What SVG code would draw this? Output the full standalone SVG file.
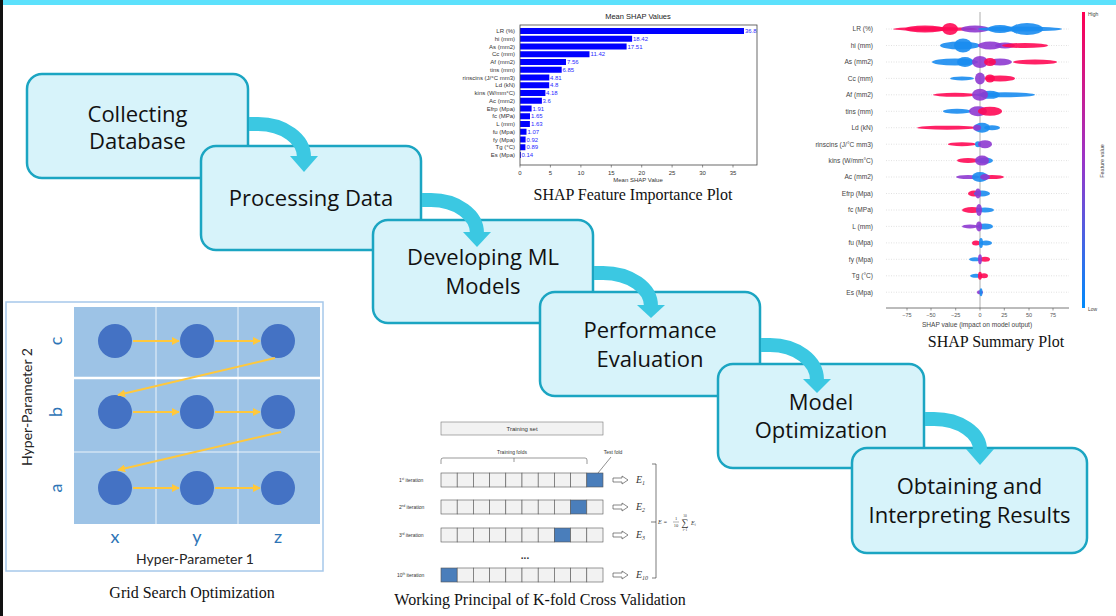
<svg xmlns="http://www.w3.org/2000/svg" width="1116" height="616" viewBox="0 0 1116 616">
<style>
.box{fill:#d7f3fa;stroke:#1ba5c2;stroke-width:2.5}
.bt{font-family:"Open Sans","Noto Sans",sans-serif;font-size:22px;fill:#111;text-anchor:middle}
.cap{font-family:"Liberation Serif",serif;font-size:16px;fill:#111;text-anchor:middle}
.arr{fill:none;stroke:#3bc8e2;stroke-width:14}
.ah{fill:#3bc8e2}
.fl{font-family:"Liberation Sans",sans-serif;font-size:6px;fill:#333;text-anchor:end}
.vl{font-family:"Liberation Sans",sans-serif;font-size:6px;fill:#2a2aff}
.tk{font-family:"Liberation Sans",sans-serif;font-size:6px;fill:#333;text-anchor:middle}
.bar{fill:#0000ff}
.sl{font-family:"Liberation Sans",sans-serif;font-size:6.6px;fill:#444;text-anchor:end}
.grid{stroke:#ccc;stroke-width:0.6;stroke-dasharray:1 1.5}
.R{fill:#ff0a55;opacity:.9}
.B{fill:#1a8cf0;opacity:.9}
.P{fill:#8e3ad0;opacity:.9}
.cir{fill:#4472c4}
.ya{stroke:#ffc83d;stroke-width:2;fill:none}
.gl{font-family:Lato,"Open Sans",sans-serif;font-size:18px;fill:#2e75b6;text-anchor:middle}
.hp{font-family:Lato,"Open Sans",sans-serif;font-size:14px;fill:#262626;text-anchor:middle}
.cell{fill:#f2f2f2;stroke:#555;stroke-width:0.6}
.tf{fill:#4a7ebb;stroke:#555;stroke-width:0.6}
.it{font-family:"Liberation Sans",sans-serif;font-size:5px;fill:#333}
.ex{font-family:"Liberation Serif",serif;font-style:italic;font-size:10px;fill:#333}
.dar{fill:#fff;stroke:#555;stroke-width:0.7}
</style>
<defs>
<marker id="yh" viewBox="0 0 10 10" refX="9" refY="5" markerWidth="4" markerHeight="4" orient="auto"><path d="M0,0 L10,5 L0,10 Z" fill="#ffc83d"/></marker>
<linearGradient id="cb" x1="0" y1="0" x2="0" y2="1"><stop offset="0" stop-color="#ff0052"/><stop offset="0.5" stop-color="#9b35c8"/><stop offset="1" stop-color="#008bfb"/></linearGradient>
</defs>
<rect width="1116" height="616" fill="#fff"/>
<rect x="0" y="0" width="1116" height="5" fill="#5ce1fc"/>
<rect x="0" y="0" width="3" height="616" fill="#111"/>

<!-- SHAP feature importance -->
<g id="shap-importance">
<text x="638" y="19" font-family="Liberation Sans,sans-serif" font-size="7.5" fill="#222" text-anchor="middle">Mean SHAP Values</text>
<g>
<rect class="bar" x="520" y="28" width="224" height="6"/>
<rect class="bar" x="520" y="35.75" width="112.1" height="6"/>
<rect class="bar" x="520" y="43.5" width="106.6" height="6"/>
<rect class="bar" x="520" y="51.25" width="69.5" height="6"/>
<rect class="bar" x="520" y="59" width="46" height="6"/>
<rect class="bar" x="520" y="66.75" width="41.7" height="6"/>
<rect class="bar" x="520" y="74.5" width="29.3" height="6"/>
<rect class="bar" x="520" y="82.25" width="29.2" height="6"/>
<rect class="bar" x="520" y="90" width="25.4" height="6"/>
<rect class="bar" x="520" y="97.75" width="21.9" height="6"/>
<rect class="bar" x="520" y="105.5" width="11.6" height="6"/>
<rect class="bar" x="520" y="113.25" width="10" height="6"/>
<rect class="bar" x="520" y="121" width="9.9" height="6"/>
<rect class="bar" x="520" y="128.75" width="6.5" height="6"/>
<rect class="bar" x="520" y="136.5" width="5.6" height="6"/>
<rect class="bar" x="520" y="144.25" width="5.4" height="6"/>
<rect class="bar" x="520" y="152" width="0.9" height="6"/>
</g>
<rect x="520" y="25" width="237" height="140" fill="none" stroke="#444" stroke-width="0.8"/>
<g>
<text class="fl" x="515" y="33">LR (%)</text>
<text class="fl" x="515" y="40.75">hi (mm)</text>
<text class="fl" x="515" y="48.5">As (mm2)</text>
<text class="fl" x="515" y="56.25">Cc (mm)</text>
<text class="fl" x="515" y="64">Af (mm2)</text>
<text class="fl" x="515" y="71.75">tins (mm)</text>
<text class="fl" x="515" y="79.5">rinscins (J/°C mm3)</text>
<text class="fl" x="515" y="87.25">Ld (kN)</text>
<text class="fl" x="515" y="95">kins (W/mm°C)</text>
<text class="fl" x="515" y="102.75">Ac (mm2)</text>
<text class="fl" x="515" y="110.5">Efrp (Mpa)</text>
<text class="fl" x="515" y="118.25">fc (MPa)</text>
<text class="fl" x="515" y="126">L (mm)</text>
<text class="fl" x="515" y="133.75">fu (Mpa)</text>
<text class="fl" x="515" y="141.5">fy (Mpa)</text>
<text class="fl" x="515" y="149.25">Tg (°C)</text>
<text class="fl" x="515" y="157">Es (Mpa)</text>
</g>
<g>
<text class="vl" x="745" y="33">36.8</text>
<text class="vl" x="633" y="40.75">18.42</text>
<text class="vl" x="627.5" y="48.5">17.51</text>
<text class="vl" x="590.5" y="56.25">11.42</text>
<text class="vl" x="567" y="64">7.56</text>
<text class="vl" x="562.5" y="71.75">6.85</text>
<text class="vl" x="550" y="79.5">4.81</text>
<text class="vl" x="550" y="87.25">4.8</text>
<text class="vl" x="546" y="95">4.18</text>
<text class="vl" x="542.5" y="102.75">3.6</text>
<text class="vl" x="532.5" y="110.5">1.91</text>
<text class="vl" x="531" y="118.25">1.65</text>
<text class="vl" x="531" y="126">1.63</text>
<text class="vl" x="527.5" y="133.75">1.07</text>
<text class="vl" x="526.5" y="141.5">0.92</text>
<text class="vl" x="526.5" y="149.25">0.89</text>
<text class="vl" x="521.5" y="157">0.14</text>
</g>
<g stroke="#444" stroke-width="0.6">
<line x1="520" y1="165" x2="520" y2="167.5"/><line x1="550.4" y1="165" x2="550.4" y2="167.5"/><line x1="580.9" y1="165" x2="580.9" y2="167.5"/><line x1="611.3" y1="165" x2="611.3" y2="167.5"/><line x1="641.7" y1="165" x2="641.7" y2="167.5"/><line x1="672.1" y1="165" x2="672.1" y2="167.5"/><line x1="702.6" y1="165" x2="702.6" y2="167.5"/><line x1="733" y1="165" x2="733" y2="167.5"/>
</g>
<g>
<text class="tk" x="520" y="174.5">0</text><text class="tk" x="550.4" y="174.5">5</text><text class="tk" x="580.9" y="174.5">10</text><text class="tk" x="611.3" y="174.5">15</text><text class="tk" x="641.7" y="174.5">20</text><text class="tk" x="672.1" y="174.5">25</text><text class="tk" x="702.6" y="174.5">30</text><text class="tk" x="733" y="174.5">35</text>
</g>
<text class="tk" x="638" y="181.5" font-size="5.5">Mean SHAP Value</text>
<text class="cap" x="633" y="200">SHAP Feature Importance Plot</text>
</g>

<!-- SHAP summary -->
<g id="shap-summary">
<g class="grid">
<line x1="886" y1="29" x2="1069" y2="29"/><line x1="886" y1="45.5" x2="1069" y2="45.5"/><line x1="886" y1="62" x2="1069" y2="62"/><line x1="886" y1="78.4" x2="1069" y2="78.4"/><line x1="886" y1="94.8" x2="1069" y2="94.8"/><line x1="886" y1="111.3" x2="1069" y2="111.3"/><line x1="886" y1="127.7" x2="1069" y2="127.7"/><line x1="886" y1="144.2" x2="1069" y2="144.2"/><line x1="886" y1="160.6" x2="1069" y2="160.6"/><line x1="886" y1="177" x2="1069" y2="177"/><line x1="886" y1="193.5" x2="1069" y2="193.5"/><line x1="886" y1="210" x2="1069" y2="210"/><line x1="886" y1="226.4" x2="1069" y2="226.4"/><line x1="886" y1="242.9" x2="1069" y2="242.9"/><line x1="886" y1="259.3" x2="1069" y2="259.3"/><line x1="886" y1="275.8" x2="1069" y2="275.8"/><line x1="886" y1="292.2" x2="1069" y2="292.2"/>
</g>
<line x1="980" y1="12" x2="980" y2="308" stroke="#999" stroke-width="0.8"/>
<g>
<ellipse class="R" cx="935" cy="29" rx="42" ry="2"/><ellipse class="R" cx="925" cy="29" rx="20" ry="3.5"/><ellipse class="R" cx="950" cy="29" rx="8" ry="6"/><ellipse class="P" cx="975" cy="29" rx="14" ry="3.5"/><ellipse class="B" cx="1020" cy="29" rx="42" ry="2.5"/><ellipse class="B" cx="1000" cy="29" rx="12" ry="4"/><ellipse class="B" cx="1027" cy="29" rx="16" ry="6"/>
<ellipse class="B" cx="960" cy="45.5" rx="20" ry="4"/><ellipse class="B" cx="963" cy="45.5" rx="9" ry="7"/><ellipse class="P" cx="990" cy="45.5" rx="12" ry="4"/><ellipse class="P" cx="1005" cy="45.5" rx="10" ry="3"/><ellipse class="R" cx="1025" cy="45.5" rx="23" ry="2.5"/>
<ellipse class="B" cx="955" cy="62" rx="23" ry="3.5"/><ellipse class="B" cx="965" cy="62" rx="8" ry="5"/><ellipse class="P" cx="980" cy="62" rx="8" ry="6"/><ellipse class="P" cx="1000" cy="62" rx="12" ry="3.5"/><ellipse class="R" cx="990" cy="62" rx="6" ry="4"/><ellipse class="R" cx="1035" cy="62" rx="22" ry="2.5"/>
<ellipse class="B" cx="962" cy="78.4" rx="12" ry="2"/><ellipse class="P" cx="980" cy="78.4" rx="5" ry="6"/><ellipse class="R" cx="1000" cy="78.4" rx="15" ry="3"/><ellipse class="R" cx="990" cy="78.4" rx="5" ry="4"/>
<ellipse class="R" cx="955" cy="94.8" rx="22" ry="2"/><ellipse class="B" cx="1005" cy="94.8" rx="30" ry="2.5"/><ellipse class="B" cx="990" cy="94.8" rx="10" ry="4"/><ellipse class="P" cx="980" cy="94.8" rx="8" ry="6"/>
<ellipse class="B" cx="957" cy="111.3" rx="14" ry="2.5"/><ellipse class="P" cx="978" cy="111.3" rx="9" ry="5"/><ellipse class="R" cx="990" cy="111.3" rx="12" ry="4.5"/>
<ellipse class="R" cx="947" cy="127.7" rx="30" ry="2"/><ellipse class="B" cx="992" cy="127.7" rx="8" ry="2.5"/><ellipse class="B" cx="982" cy="127.7" rx="8" ry="5"/><ellipse class="P" cx="977" cy="127.7" rx="4" ry="3"/>
<ellipse class="R" cx="962" cy="144.2" rx="14" ry="2"/><ellipse class="B" cx="978" cy="144.2" rx="3" ry="3"/><ellipse class="P" cx="985" cy="144.2" rx="7" ry="4"/>
<ellipse class="R" cx="968" cy="160.6" rx="11" ry="2.5"/><ellipse class="B" cx="985" cy="160.6" rx="8" ry="3"/><ellipse class="P" cx="982" cy="160.6" rx="7" ry="5"/>
<ellipse class="P" cx="968" cy="177" rx="12" ry="2"/><ellipse class="R" cx="992" cy="177" rx="12" ry="2"/><ellipse class="B" cx="980" cy="177" rx="8" ry="5"/><ellipse class="P" cx="985" cy="177" rx="5" ry="3"/>
<ellipse class="R" cx="974" cy="193.5" rx="6" ry="3"/><ellipse class="B" cx="982" cy="193.5" rx="8" ry="3"/><ellipse class="P" cx="978" cy="193.5" rx="3" ry="5"/>
<ellipse class="R" cx="972" cy="210" rx="10" ry="3"/><ellipse class="B" cx="985" cy="210" rx="9" ry="2.5"/><ellipse class="P" cx="979" cy="210" rx="3" ry="6"/>
<ellipse class="P" cx="970" cy="226.4" rx="8" ry="2"/><ellipse class="B" cx="985" cy="226.4" rx="8" ry="3"/><ellipse class="P" cx="979" cy="226.4" rx="3" ry="5"/>
<ellipse class="R" cx="976" cy="242.9" rx="4" ry="2.5"/><ellipse class="B" cx="986" cy="242.9" rx="6" ry="2.5"/><ellipse class="B" cx="981" cy="242.9" rx="2" ry="5"/>
<ellipse class="B" cx="975" cy="259.3" rx="6" ry="2"/><ellipse class="R" cx="985" cy="259.3" rx="5" ry="2.5"/><ellipse class="P" cx="980" cy="259.3" rx="2" ry="5"/>
<ellipse class="B" cx="976" cy="275.8" rx="6" ry="2"/><ellipse class="R" cx="984" cy="275.8" rx="4" ry="2.5"/><ellipse class="R" cx="980" cy="275.8" rx="2" ry="4"/>
<ellipse class="P" cx="980" cy="292.2" rx="3" ry="2"/><ellipse class="B" cx="981" cy="292.2" rx="1.5" ry="4"/>
</g>
<g>
<text class="sl" x="873" y="31.3">LR (%)</text><text class="sl" x="873" y="47.8">hi (mm)</text><text class="sl" x="873" y="64.3">As (mm2)</text><text class="sl" x="873" y="80.7">Cc (mm)</text><text class="sl" x="873" y="97.1">Af (mm2)</text><text class="sl" x="873" y="113.6">tins (mm)</text><text class="sl" x="873" y="130">Ld (kN)</text><text class="sl" x="873" y="146.5">rinscins (J/°C mm3)</text><text class="sl" x="873" y="162.9">kins (W/mm°C)</text><text class="sl" x="873" y="179.3">Ac (mm2)</text><text class="sl" x="873" y="195.8">Efrp (Mpa)</text><text class="sl" x="873" y="212.3">fc (MPa)</text><text class="sl" x="873" y="228.7">L (mm)</text><text class="sl" x="873" y="245.2">fu (Mpa)</text><text class="sl" x="873" y="261.6">fy (Mpa)</text><text class="sl" x="873" y="278.1">Tg (°C)</text><text class="sl" x="873" y="294.5">Es (Mpa)</text>
</g>
<line x1="886" y1="308" x2="1069" y2="308" stroke="#555" stroke-width="0.8"/>
<g stroke="#555" stroke-width="0.6">
<line x1="907" y1="308" x2="907" y2="310.5"/><line x1="931" y1="308" x2="931" y2="310.5"/><line x1="955.7" y1="308" x2="955.7" y2="310.5"/><line x1="980" y1="308" x2="980" y2="310.5"/><line x1="1004.3" y1="308" x2="1004.3" y2="310.5"/><line x1="1029" y1="308" x2="1029" y2="310.5"/><line x1="1053" y1="308" x2="1053" y2="310.5"/>
</g>
<g class="tk" style="font-size:5.5px;fill:#555">
<text x="907" y="317">−75</text><text x="931" y="317">−50</text><text x="955.7" y="317">−25</text><text x="980" y="317">0</text><text x="1004.3" y="317">25</text><text x="1029" y="317">50</text><text x="1053" y="317">75</text>
</g>
<text class="tk" x="977" y="326.5" style="font-size:6.6px;fill:#444">SHAP value (impact on model output)</text>
<rect x="1082" y="12" width="3" height="296" fill="url(#cb)"/>
<text x="1088" y="16" font-family="Liberation Sans,sans-serif" font-size="5" fill="#444">High</text>
<text x="1088" y="311" font-family="Liberation Sans,sans-serif" font-size="5" fill="#444">Low</text>
<text transform="translate(1104,161) rotate(-90)" font-family="Liberation Sans,sans-serif" font-size="5.5" fill="#444" text-anchor="middle">Feature value</text>
<text class="cap" x="996" y="347">SHAP Summary Plot</text>
</g>

<!-- Grid search -->
<g id="grid-search">
<rect x="6" y="302" width="317" height="269" fill="#fff" stroke="#a6c8ea" stroke-width="1.5"/>
<rect x="74" y="307" width="246" height="217" fill="#9dc3e6"/>
<g stroke="#fff">
<line x1="156" y1="307" x2="156" y2="524" stroke-width="0.8"/><line x1="238" y1="307" x2="238" y2="524" stroke-width="0.8"/>
<line x1="74" y1="378" x2="320" y2="378" stroke-width="2.5"/><line x1="74" y1="452" x2="320" y2="452" stroke-width="0.8"/>
</g>
<g>
<circle class="cir" cx="115" cy="341" r="17"/><circle class="cir" cx="197" cy="341" r="17"/><circle class="cir" cx="278" cy="341" r="17"/>
<circle class="cir" cx="115" cy="412" r="17"/><circle class="cir" cx="197" cy="412" r="17"/><circle class="cir" cx="278" cy="412" r="17"/>
<circle class="cir" cx="115" cy="488" r="17"/><circle class="cir" cx="197" cy="488" r="17"/><circle class="cir" cx="278" cy="488" r="17"/>
</g>
<g class="ya" marker-end="url(#yh)">
<line x1="133" y1="341" x2="179" y2="341"/><line x1="215" y1="341" x2="260" y2="341"/>
<line x1="275" y1="358" x2="118" y2="395"/>
<line x1="133" y1="412" x2="179" y2="412"/><line x1="215" y1="412" x2="260" y2="412"/>
<line x1="281" y1="432" x2="118" y2="470"/>
<line x1="133" y1="488" x2="179" y2="488"/><line x1="215" y1="488" x2="260" y2="488"/>
</g>
<text class="gl" transform="translate(62,341) rotate(-90)">c</text>
<text class="gl" transform="translate(62,412) rotate(-90)">b</text>
<text class="gl" transform="translate(62,488) rotate(-90)">a</text>
<text class="gl" x="115" y="543">x</text><text class="gl" x="197" y="543">y</text><text class="gl" x="278" y="543">z</text>
<text class="hp" transform="translate(32,407) rotate(-90)">Hyper-Parameter 2</text>
<text class="hp" x="195" y="564">Hyper-Parameter 1</text>
<text class="cap" x="192" y="598">Grid Search Optimization</text>
</g>

<!-- K-fold -->
<g id="kfold">
<rect x="441" y="422" width="162" height="13" fill="#f2f2f2" stroke="#777" stroke-width="0.6"/>
<text x="522" y="431" font-family="Liberation Sans,sans-serif" font-size="6" fill="#333" text-anchor="middle">Training set</text>
<text x="512" y="454" font-family="Liberation Sans,sans-serif" font-size="5" fill="#333" text-anchor="middle">Training folds</text>
<text x="613" y="454" font-family="Liberation Sans,sans-serif" font-size="5" fill="#333" text-anchor="middle">Test fold</text>
<path d="M441,464 V460 Q441,458 443,458 H585 Q587,458 587,460 V464 M514,458 V462" fill="none" stroke="#555" stroke-width="0.6"/>
<line x1="611" y1="457" x2="598" y2="473" stroke="#444" stroke-width="0.6"/>
<g>
<rect class="cell" x="441" y="473" width="16.2" height="14"/><rect class="cell" x="457.2" y="473" width="16.2" height="14"/><rect class="cell" x="473.4" y="473" width="16.2" height="14"/><rect class="cell" x="489.6" y="473" width="16.2" height="14"/><rect class="cell" x="505.8" y="473" width="16.2" height="14"/><rect class="cell" x="522" y="473" width="16.2" height="14"/><rect class="cell" x="538.2" y="473" width="16.2" height="14"/><rect class="cell" x="554.4" y="473" width="16.2" height="14"/><rect class="cell" x="570.6" y="473" width="16.2" height="14"/><rect class="tf" x="586.8" y="473" width="16.2" height="14"/>
<rect class="cell" x="441" y="500" width="16.2" height="14"/><rect class="cell" x="457.2" y="500" width="16.2" height="14"/><rect class="cell" x="473.4" y="500" width="16.2" height="14"/><rect class="cell" x="489.6" y="500" width="16.2" height="14"/><rect class="cell" x="505.8" y="500" width="16.2" height="14"/><rect class="cell" x="522" y="500" width="16.2" height="14"/><rect class="cell" x="538.2" y="500" width="16.2" height="14"/><rect class="cell" x="554.4" y="500" width="16.2" height="14"/><rect class="tf" x="570.6" y="500" width="16.2" height="14"/><rect class="cell" x="586.8" y="500" width="16.2" height="14"/>
<rect class="cell" x="441" y="528" width="16.2" height="14"/><rect class="cell" x="457.2" y="528" width="16.2" height="14"/><rect class="cell" x="473.4" y="528" width="16.2" height="14"/><rect class="cell" x="489.6" y="528" width="16.2" height="14"/><rect class="cell" x="505.8" y="528" width="16.2" height="14"/><rect class="cell" x="522" y="528" width="16.2" height="14"/><rect class="cell" x="538.2" y="528" width="16.2" height="14"/><rect class="tf" x="554.4" y="528" width="16.2" height="14"/><rect class="cell" x="570.6" y="528" width="16.2" height="14"/><rect class="cell" x="586.8" y="528" width="16.2" height="14"/>
<rect class="tf" x="441" y="568" width="16.2" height="14"/><rect class="cell" x="457.2" y="568" width="16.2" height="14"/><rect class="cell" x="473.4" y="568" width="16.2" height="14"/><rect class="cell" x="489.6" y="568" width="16.2" height="14"/><rect class="cell" x="505.8" y="568" width="16.2" height="14"/><rect class="cell" x="522" y="568" width="16.2" height="14"/><rect class="cell" x="538.2" y="568" width="16.2" height="14"/><rect class="cell" x="554.4" y="568" width="16.2" height="14"/><rect class="cell" x="570.6" y="568" width="16.2" height="14"/><rect class="cell" x="586.8" y="568" width="16.2" height="14"/>
</g>
<text class="it" x="399" y="482">1<tspan font-size="3" dy="-2">st</tspan><tspan dy="2"> iteration</tspan></text>
<text class="it" x="399" y="509">2<tspan font-size="3" dy="-2">nd</tspan><tspan dy="2"> iteration</tspan></text>
<text class="it" x="399" y="537">3<tspan font-size="3" dy="-2">rd</tspan><tspan dy="2"> iteration</tspan></text>
<text class="it" x="397" y="577">10<tspan font-size="3" dy="-2">th</tspan><tspan dy="2"> iteration</tspan></text>
<text x="525" y="559" font-family="Liberation Sans,sans-serif" font-size="10" font-weight="bold" fill="#333" text-anchor="middle">...</text>
<g>
<path class="dar" d="M613,478 H622 V476 L628,480 L622,484 V482 H613 Z"/>
<path class="dar" d="M613,505 H622 V503 L628,507 L622,511 V509 H613 Z"/>
<path class="dar" d="M613,533 H622 V531 L628,535 L622,539 V537 H613 Z"/>
<path class="dar" d="M613,573 H622 V571 L628,575 L622,579 V577 H613 Z"/>
</g>
<text class="ex" x="636" y="483">E<tspan font-size="6" dy="2">1</tspan></text>
<text class="ex" x="636" y="510">E<tspan font-size="6" dy="2">2</tspan></text>
<text class="ex" x="636" y="538">E<tspan font-size="6" dy="2">3</tspan></text>
<text class="ex" x="636" y="578">E<tspan font-size="6" dy="2">10</tspan></text>
<path d="M652,464 H656 V578 H652 M656,522 H651" fill="none" stroke="#444" stroke-width="0.7"/>
<text x="658" y="524" font-family="Liberation Serif,serif" font-style="italic" font-size="6" fill="#333">E =</text>
<text x="676" y="520" font-family="Liberation Serif,serif" font-size="4.5" fill="#333" text-anchor="middle">1</text>
<line x1="673" y1="522" x2="679" y2="522" stroke="#333" stroke-width="0.4"/>
<text x="676" y="527" font-family="Liberation Serif,serif" font-size="4.5" fill="#333" text-anchor="middle">10</text>
<text x="685" y="526" font-family="Liberation Serif,serif" font-size="10" fill="#333" text-anchor="middle">∑</text>
<text x="685" y="517" font-family="Liberation Serif,serif" font-size="3.5" fill="#333" text-anchor="middle">10</text>
<text x="685" y="530.5" font-family="Liberation Serif,serif" font-size="3.5" fill="#333" text-anchor="middle">i=1</text>
<text x="691" y="525" font-family="Liberation Serif,serif" font-style="italic" font-size="6" fill="#333">E<tspan font-size="3.5" dy="1">i</tspan></text>
<text class="cap" x="540" y="605">Working Principal of K-fold Cross Validation</text>
</g>

<!-- Process nodes -->
<g id="node-collecting">
<rect class="box" x="27" y="74" width="221" height="104" rx="15"/>
<text class="bt" x="137.5" y="122">Collecting</text><text class="bt" x="137.5" y="149">Database</text>
</g>
<g id="node-processing">
<rect class="box" x="201" y="146" width="220" height="104" rx="15"/>
<text class="bt" x="311" y="206">Processing Data</text>
</g>
<g id="node-developing">
<rect class="box" x="373" y="220" width="220" height="103" rx="15"/>
<text class="bt" x="483" y="265">Developing ML</text><text class="bt" x="483" y="294">Models</text>
</g>
<g id="node-performance">
<rect class="box" x="540" y="292" width="220" height="104" rx="15"/>
<text class="bt" x="650" y="338">Performance</text><text class="bt" x="650" y="367">Evaluation</text>
</g>
<g id="node-optimization">
<rect class="box" x="718" y="364" width="206" height="104" rx="15"/>
<text class="bt" x="821" y="410">Model</text><text class="bt" x="821" y="438">Optimization</text>
</g>
<g id="node-results">
<rect class="box" x="852" y="448" width="235" height="105" rx="15"/>
<text class="bt" x="969.5" y="494">Obtaining and</text><text class="bt" x="969.5" y="523">Interpreting Results</text>
</g>

<!-- Connectors -->
<g id="connectors">
<path class="arr" d="M249,124 H258 A46,33 0 0 1 304,157.5"/><polygon class="ah" points="290,156 318,156 304,172"/>
<path class="arr" d="M422,200 H431 A46,33 0 0 1 477,233.5"/><polygon class="ah" points="463,232 491,232 477,247"/>
<path class="arr" d="M594,273 H603 A48,33 0 0 1 651,306.5"/><polygon class="ah" points="637,305 665,305 651,318"/>
<path class="arr" d="M761,345 H770 A47,35 0 0 1 817,380.5"/><polygon class="ah" points="803,379 831,379 817,393"/>
<path class="arr" d="M925,419 H934 A46,31 0 0 1 980,450.5"/><polygon class="ah" points="966,449 994,449 980,465"/>
</g>
</svg>
